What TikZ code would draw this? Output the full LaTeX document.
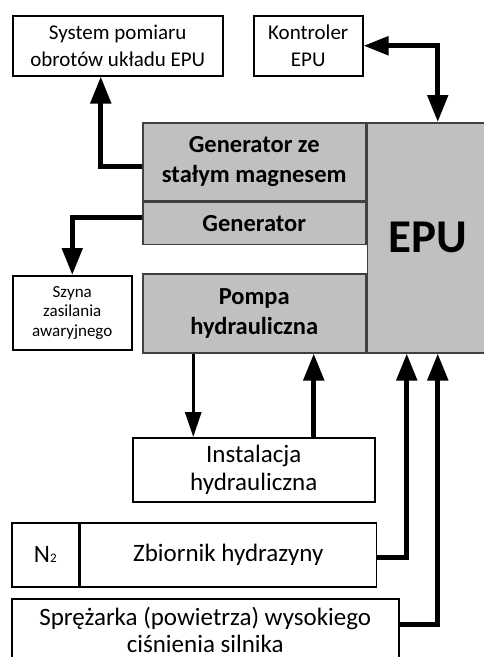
\documentclass[tikz,border=0pt]{standalone}
\usepackage{fontspec}
\setmainfont{Carlito}
\usetikzlibrary{positioning,arrows.meta,calc}
\definecolor{unitgray}{HTML}{C0C0C0}

\begin{document}
\begin{tikzpicture}[
    x=1pt, y=-1pt,
    box/.style      = {rectangle, draw, line width=1.5pt, align=center,
                       inner sep=0pt, anchor=north west},
    unit/.style     = {box, fill=unitgray, draw=black!75,
                       font=\fontsize{24.5}{30}\selectfont\bfseries},
    txtmd/.style    = {font=\fontsize{21}{27}\selectfont},
    txtsm/.style    = {font=\fontsize{17}{19.5}\selectfont},
    txtlg/.style    = {font=\fontsize{25}{28}\selectfont},
    flow/.style     = {line width=5pt, -{Triangle[length=27pt, width=20pt]}},
    thinflow/.style = {line width=3pt, -{Triangle[length=25pt, width=16pt]}},
    twoway/.style   = {line width=5pt, {Triangle[length=25pt, width=18pt]}-{Triangle[length=27pt, width=20pt]}}
]
\clip (0,0) rectangle (484,657);

% --- Top row -----------------------------------------------------------------
\node[box, txtmd, minimum width=210pt, minimum height=60pt] (meas) at (12,15)
  {System pomiaru\\obrotów układu EPU};
\node[box, txtmd, minimum width=109pt, minimum height=60pt] (ctrl) at (253,15)
  {Kontroler\\EPU};

% --- Gray unit block ---------------------------------------------------------
\node[unit, minimum width=223pt, minimum height=78pt]  (pmg)  at (142,122)
  {Generator ze\\stałym magnesem};
\node[unit, minimum width=223pt, minimum height=42pt]  (gen)  at (pmg.south west)
  {Generator};
\node[unit, minimum width=121pt, minimum height=230pt,
      font=\fontsize{47}{56}\selectfont\bfseries]     (epu)  at (pmg.north east)
  {EPU};
\node[unit, minimum width=223pt, minimum height=79pt]  (pump) at (142,273)
  {Pompa\\hydrauliczna};

% --- Outside boxes -----------------------------------------------------------
\node[box, txtsm, minimum width=119pt, minimum height=74pt] (bus)  at (12,275)
  {Szyna\\zasilania\\awaryjnego};
\node[box, txtlg, minimum width=242pt, minimum height=64pt] (hydr) at (132,437)
  {Instalacja\\hydrauliczna};
\node[box, txtlg, minimum width=67pt,  minimum height=64pt] (nitro) at (11,522)
  {N{\fontsize{13}{13}\selectfont 2}};
\node[box, txtlg, minimum width=296pt, minimum height=64pt] (tank) at (nitro.north east)
  {Zbiornik hydrazyny};
\node[box, font=\fontsize{25}{27}\selectfont,
      minimum width=387pt, minimum height=62pt]              (comp) at (11,598)
  {Sprężarka (powietrza) wysokiego\\ciśnienia silnika};

% --- Flows -------------------------------------------------------------------
\draw[flow]     ([yshift=-5pt]pmg.west) -| ([xshift=-17pt]meas.south);
\draw[flow]     ([yshift=6pt]gen.west)  -| (bus.north);
\draw[twoway]   (ctrl.east) -| ([xshift=10pt]epu.north);

\draw[thinflow] ([xshift=-61pt]pump.south) -- ([xshift=-61pt]pump.south |- hydr.north);
\draw[flow]     ([xshift=60pt]hydr.north)  -- ([xshift=60pt]hydr.north |- pump.south);

\draw[flow]     ([yshift=-3pt]tank.east) -| ([xshift=-21pt]epu.south);
\draw[flow]     ([yshift=5pt]comp.east)  -| ([xshift=10pt]epu.south);

\end{tikzpicture}
\end{document}
